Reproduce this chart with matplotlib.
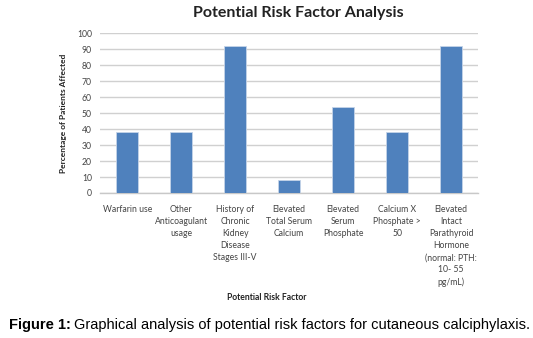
import matplotlib
matplotlib.use("Agg")
import matplotlib.pyplot as plt

factors = [
    "Warfarin use",
    "Other\nAnticoagulant\nusage",
    "History of\nChronic\nKidney\nDisease\nStages III-V",
    "Elevated\nTotal Serum\nCalcium",
    "Elevated\nSerum\nPhosphate",
    "Calcium X\nPhosphate >\n50",
    "Elevated\nIntact\nParathyroid\nHormone\n(normal: PTH:\n10- 55\npg/mL)",
]
percent = [38, 38, 92, 8, 54, 38, 92]
yticks = list(range(0, 101, 10))

plt.rcParams["font.family"] = ["Lato", "DejaVu Sans"]

fig = plt.figure(figsize=(5.33, 3.38), dpi=100)
ax = fig.add_axes([0.188, 0.429, 0.709, 0.473])

x = range(len(factors))
ax.bar(x, percent, width=0.4, color="#4f81bd", edgecolor="#c5d4e8", linewidth=0.6, zorder=3)
ax.set_xlim(-0.5, len(factors) - 0.5)
ax.set_ylim(0, 100)
ax.set_yticks(yticks)
ax.yaxis.grid(True, color="#d0d0d0", linewidth=1.0, zorder=0)
for s in ["top", "right", "left"]:
    ax.spines[s].set_visible(False)
ax.spines["bottom"].set_color("#c8c8c8")
ax.spines["bottom"].set_linewidth(1.0)
ax.tick_params(axis="both", length=0, labelsize=6.2, labelcolor="#444444")
ax.tick_params(axis="y", pad=6)
ax.set_xticks(list(x))
ax.set_xticklabels(factors, linespacing=1.42, va="top")
ax.tick_params(axis="x", pad=9)

ax.set_ylabel("Percentage of Patients Affected", fontsize=6, fontweight="bold", labelpad=7, color="#222222")
fig.text(0.5, 0.112, "Potential Risk Factor", fontsize=6.2, fontweight="bold", ha="center", color="#222222")
fig.text(0.56, 0.962, "Potential Risk Factor Analysis", fontsize=11.5, fontweight="bold",
         ha="center", va="center", color="#222222")

# caption: bold lead + regular text
cap_y = 0.038
t1 = fig.text(0.016, cap_y, "Figure 1:", fontsize=10.5, fontweight="bold",
              family="Liberation Sans", va="center")
fig.canvas.draw()
bb = t1.get_window_extent(renderer=fig.canvas.get_renderer())
x1 = bb.x1 / fig.bbox.width
fig.text(x1 + 0.006, cap_y, "Graphical analysis of potential risk factors for cutaneous calciphylaxis.",
         fontsize=10.5, family="Liberation Sans", va="center")

fig.savefig("out.png", dpi=100)
